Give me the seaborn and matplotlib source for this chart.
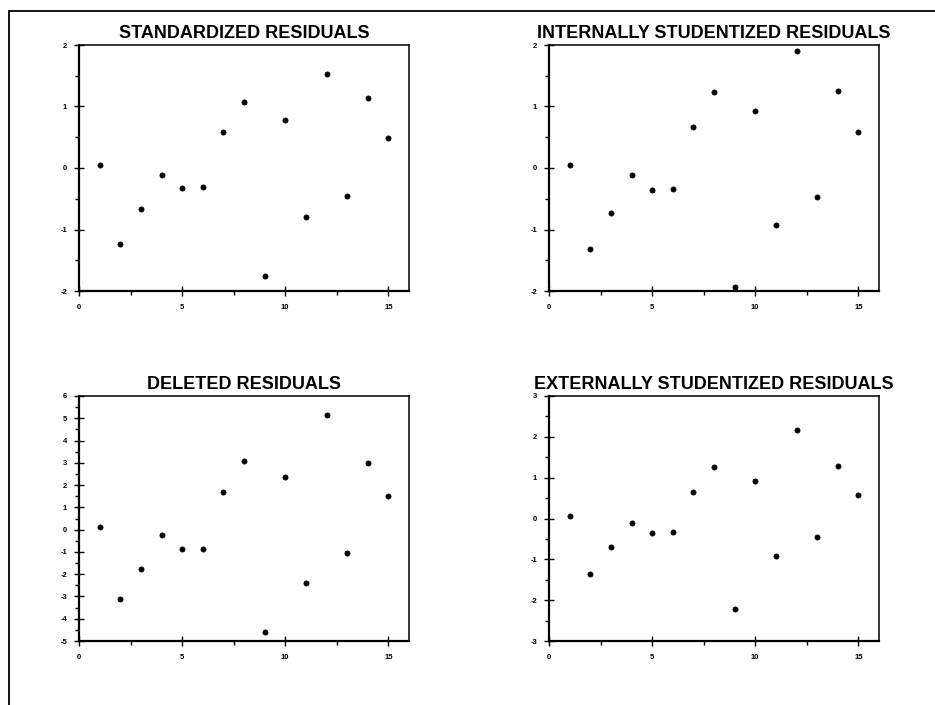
import matplotlib
matplotlib.use("Agg")
import matplotlib.pyplot as plt
from matplotlib.lines import Line2D
from matplotlib.ticker import MultipleLocator
import seaborn as sns
import pandas as pd

sns.set_theme(style="white")
plt.rcParams['font.family'] = ['Liberation Sans', 'DejaVu Sans']
plt.rcParams['axes.unicode_minus'] = False

obs = list(range(1, 16))
standardized = [0.044, -1.23, -0.665, -0.11, -0.32, -0.316, 0.583, 1.074, -1.76,
                0.785, -0.796, 1.526, -0.452, 1.133, 0.49]
internally = [0.054, -1.324, -0.73, -0.12, -0.36, -0.349, 0.67, 1.232, -1.93,
              0.921, -0.932, 1.896, -0.469, 1.248, 0.578]
deleted = [0.126, -3.1, -1.76, -0.26, -0.88, -0.85, 1.67, 3.09, -4.6,
           2.35, -2.41, 5.13, -1.07, 2.99, 1.49]
externally = [0.049, -1.37, -0.71, -0.106, -0.343, -0.335, 0.654, 1.267, -2.22,
              0.916, -0.924, 2.167, -0.45, 1.284, 0.564]

titles = ["STANDARDIZED RESIDUALS", "INTERNALLY STUDENTIZED RESIDUALS",
          "DELETED RESIDUALS", "EXTERNALLY STUDENTIZED RESIDUALS"]
series = [standardized, internally, deleted, externally]
ylims = [(-2, 2), (-2, 2), (-5, 6), (-3, 3)]

W, H = 935, 705
fig = plt.figure(figsize=(W / 100, H / 100), dpi=100)
fig.patch.set_facecolor("white")

# axes boxes in pixels: left, top, right, bottom
boxes = [(79, 45, 409, 291), (549, 45, 879, 291),
         (79, 396, 409, 641), (549, 396, 879, 641)]

for (l, t, r, b), title, vals, yl in zip(boxes, titles, series, ylims):
    ax = fig.add_axes([l / W, 1 - b / H, (r - l) / W, (b - t) / H])
    df = pd.DataFrame({"obs": obs, "val": vals})
    sns.scatterplot(data=df, x="obs", y="val", ax=ax, color="black",
                    s=14, edgecolor="black", linewidth=0.5)
    ax.set_xlim(0, 16)
    ax.set_ylim(*yl)
    ax.set_xlabel("")
    ax.set_ylabel("")
    ax.xaxis.set_major_locator(MultipleLocator(5))
    ax.xaxis.set_minor_locator(MultipleLocator(2.5))
    ax.yaxis.set_major_locator(MultipleLocator(1))
    ax.yaxis.set_minor_locator(MultipleLocator(0.5))
    ax.tick_params(which="major", direction="inout", length=7, width=1.0,
                   color="black", labelsize=5.5, left=True, bottom=True)
    ax.tick_params(axis="x", which="major", pad=6)
    ax.tick_params(axis="y", which="major", pad=5)
    ax.tick_params(which="minor", direction="out", length=3, width=1.0,
                   color="black", left=True, bottom=True)
    for lab in ax.get_xticklabels() + ax.get_yticklabels():
        lab.set_fontweight("bold")
        lab.set_color("black")
    for side in ["left", "bottom"]:
        ax.spines[side].set_linewidth(1.6)
        ax.spines[side].set_color("black")
    for side in ["top", "right"]:
        ax.spines[side].set_linewidth(1.1)
        ax.spines[side].set_color("black")
    ax.set_title(title, fontsize=13, fontweight="bold", color="black", pad=5)

# outer frame lines (left and top)
fig.add_artist(Line2D([8.5 / W, 8.5 / W], [0, 1 - 10.5 / H],
                      transform=fig.transFigure, color="black", linewidth=1.3))
fig.add_artist(Line2D([8.5 / W, 1], [1 - 10.5 / H, 1 - 10.5 / H],
                      transform=fig.transFigure, color="black", linewidth=1.3))

fig.savefig("out.png", dpi=100, facecolor="white")
